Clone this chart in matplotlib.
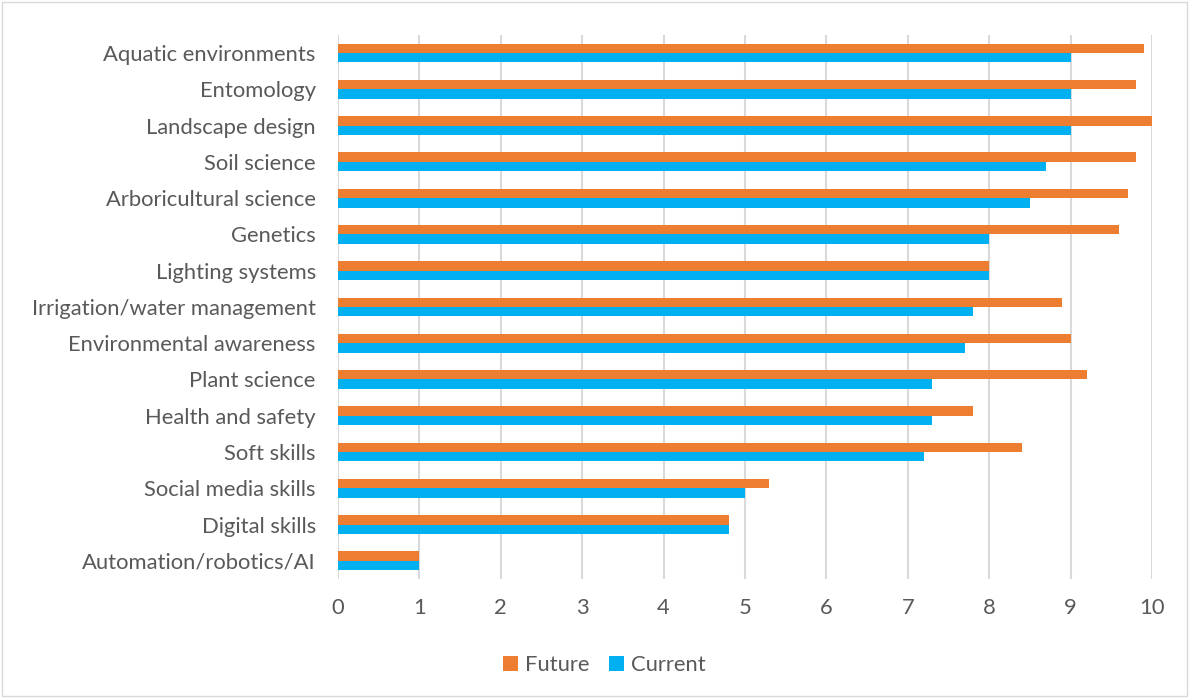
import matplotlib
matplotlib.use("Agg")
import matplotlib.pyplot as plt
import numpy as np
from matplotlib.patches import Rectangle

categories = ["Aquatic environments", "Entomology", "Landscape design", "Soil science",
              "Arboricultural science", "Genetics", "Lighting systems",
              "Irrigation/water management", "Environmental awareness", "Plant science",
              "Health and safety", "Soft skills", "Social media skills", "Digital skills",
              "Automation/robotics/AI"]
future = [9.9, 9.8, 10.0, 9.8, 9.7, 9.6, 8.0, 8.9, 9.0, 9.2, 7.8, 8.4, 5.3, 4.8, 1.0]
current = [9.0, 9.0, 9.0, 8.7, 8.5, 8.0, 8.0, 7.8, 7.7, 7.3, 7.3, 7.2, 5.0, 4.8, 1.0]
xticks = [0, 1, 2, 3, 4, 5, 6, 7, 8, 9, 10]

plt.rcParams['font.family'] = ['Lato', 'DejaVu Sans']
text_color = '#595959'
fs = 15.8

fig = plt.figure(figsize=(11.89, 6.98), dpi=100)
ax = fig.add_axes([0.2843, 0.1705, 0.9689 - 0.2843, 0.95 - 0.1705])

y = np.arange(len(categories))
h = 0.26
ax.barh(y - h / 2, future, height=h, color='#ED7D31', label='Future', zorder=3)
ax.barh(y + h / 2, current, height=h, color='#00B0F0', label='Current', zorder=3)

ax.set_ylim(len(categories) - 0.5, -0.5)
ax.set_xlim(0, 10)
ax.set_xticks(xticks)
ax.set_xticklabels([str(t) for t in xticks], fontsize=fs, color=text_color)
ax.set_yticks(y)
ax.set_yticklabels(categories, fontsize=fs, color=text_color)
ax.tick_params(axis='both', length=0)
ax.tick_params(axis='x', pad=14)
ax.tick_params(axis='y', pad=16)
ax.grid(axis='x', color='#D9D9D9', linewidth=1.5, zorder=0)
for s in ax.spines.values():
    s.set_visible(False)

leg = fig.legend(loc='center', bbox_to_anchor=(0.508, 0.047), ncol=2, frameon=False,
                 fontsize=fs, handlelength=0.7, handleheight=0.7, handletextpad=0.3,
                 columnspacing=0.9)
for t in leg.get_texts():
    t.set_color(text_color)

fig.add_artist(Rectangle((0.002, 0.003), 0.996, 0.994, transform=fig.transFigure,
                         fill=False, edgecolor='#D9D9D9', linewidth=1))

fig.savefig('out.png', dpi=100)
